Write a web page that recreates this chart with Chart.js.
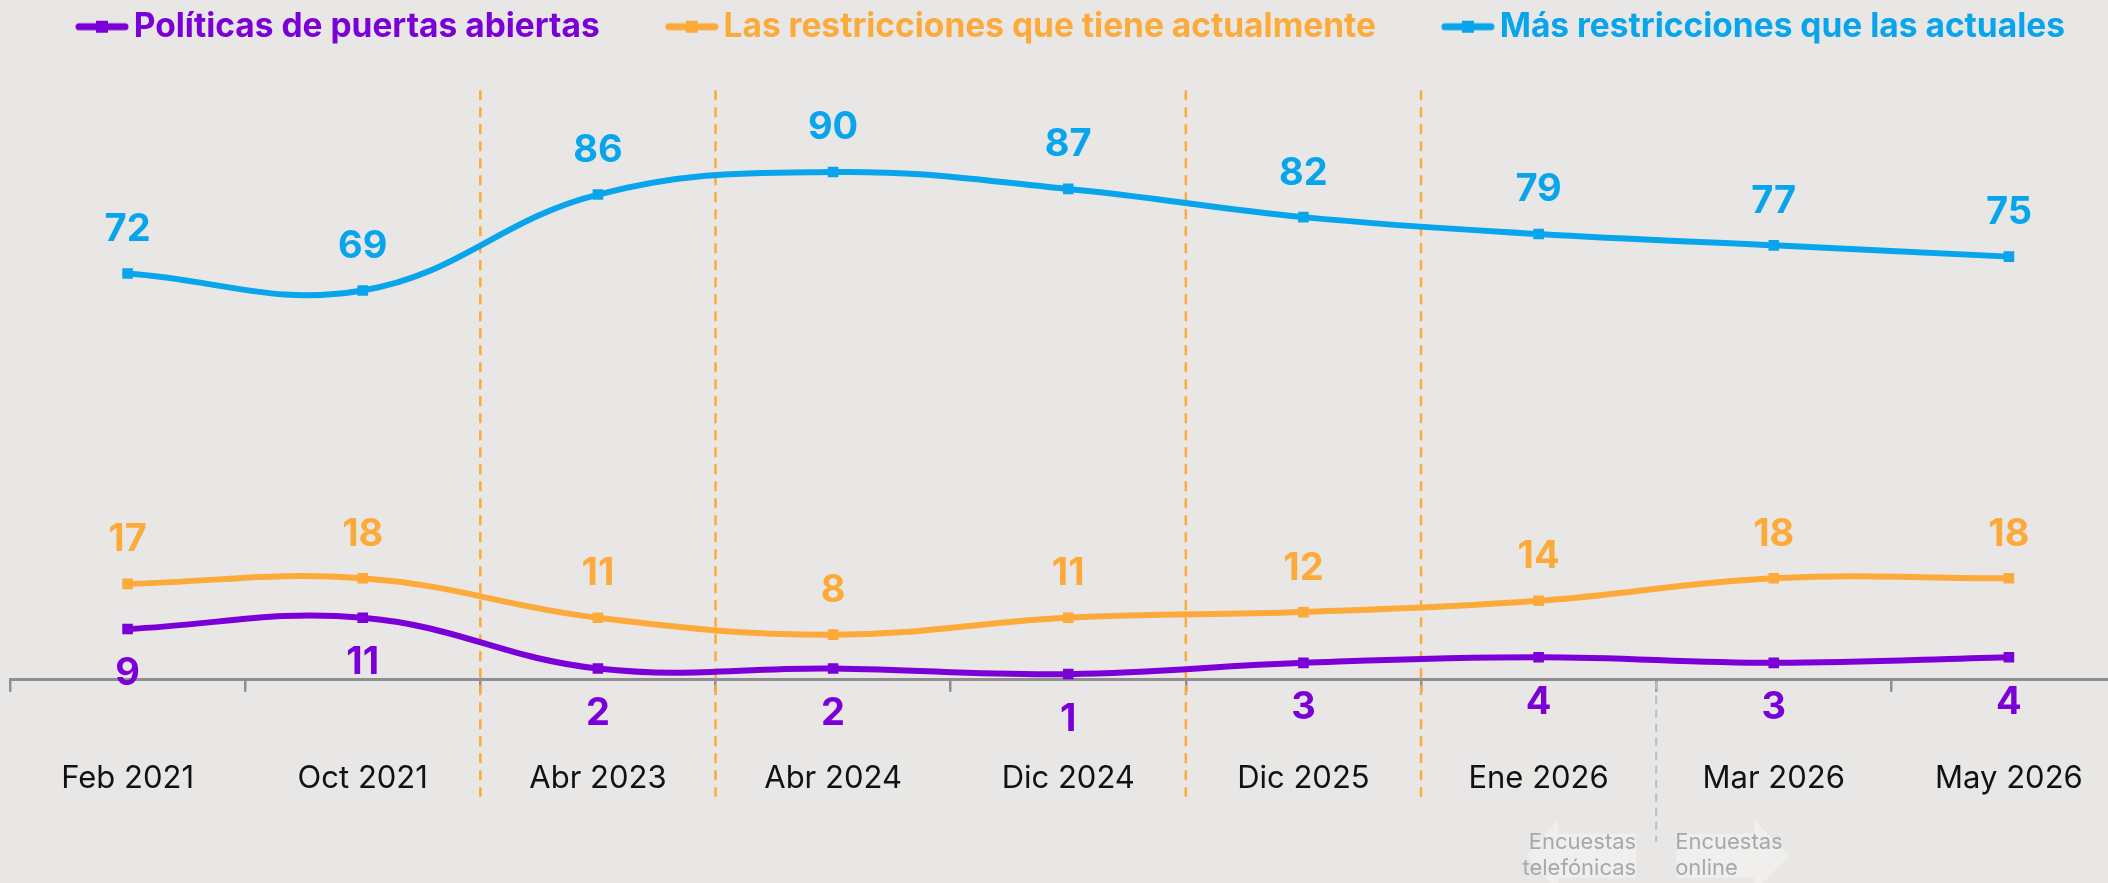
<!DOCTYPE html>
<html>
<head>
<meta charset="utf-8">
<script src="https://cdn.jsdelivr.net/npm/chart.js@4.4.1/dist/chart.umd.min.js"></script>
<style>
html, body { margin: 0; padding: 0; background: #e8e7e5; overflow: hidden; }
#wrap { width: 2134px; height: 883px; }
</style>
</head>
<body>
<div id="wrap"><canvas id="chart" width="2134" height="883"></canvas></div>
<script>
const FONT = 'Inter, "Open Sans", sans-serif';

// Data
const categories = ['Feb 2021', 'Oct 2021', 'Abr 2023', 'Abr 2024', 'Dic 2024', 'Dic 2025', 'Ene 2026', 'Mar 2026', 'May 2026'];
const openDoors = [9, 11, 2, 2, 1, 3, 4, 3, 4];
const currentRestrictions = [17, 18, 11, 8, 11, 12, 14, 18, 18];
const moreRestrictions = [72, 69, 86, 90, 87, 82, 79, 77, 75];
const seriesNames = ['Políticas de puertas abiertas', 'Las restricciones que tiene actualmente', 'Más restricciones que las actuales'];
const seriesColors = ['#7b00d8', '#fcaa3a', '#08a5ec'];

// where the method changes (between categories)
const methodBreaks = [1.5, 2.5, 4.5, 5.5];
const modeBreak = 6.5;
const modeLabels = [['Encuestas', 'telefónicas'], ['Encuestas', 'online']];

// legend marker: a line with a square, drawn into a small canvas
function makeMarker(color) {
    const c = document.createElement('canvas');
    c.width = 121;
    c.height = 14;
    const g = c.getContext('2d');
    g.strokeStyle = color;
    g.lineWidth = 7;
    g.lineCap = 'round';
    g.beginPath();
    g.moveTo(c.width - 54 + 4, 7);
    g.lineTo(c.width - 4, 7);
    g.stroke();
    g.fillStyle = color;
    g.fillRect(c.width - 27 - 6, 1, 12, 12);
    return c;
}
const markers = seriesColors.map(makeMarker);

// value labels above / below each point
const valueLabels = {
    id: 'valueLabels',
    afterDatasetsDraw(chart) {
        const ctx = chart.ctx;
        ctx.save();
        ctx.font = 'bold 38px ' + FONT;
        ctx.textAlign = 'center';
        ctx.textBaseline = 'middle';
        chart.data.datasets.forEach((ds, i) => {
            const meta = chart.getDatasetMeta(i);
            ctx.fillStyle = ds.borderColor;
            meta.data.forEach((pt, j) => {
                ctx.fillText(ds.data[j], pt.x, pt.y + ds.labelOffset);
            });
        });
        ctx.restore();
    }
};

// dashed separators and survey-mode note
const guides = {
    id: 'guides',
    beforeDatasetsDraw(chart) {
        const {ctx, scales: {x, y}} = chart;
        ctx.save();
        ctx.lineWidth = 2.5;
        ctx.strokeStyle = '#fcaa3a';
        ctx.setLineDash([10, 7]);
        const top = y.getPixelForValue(104.5);
        methodBreaks.forEach(v => {
            const px = (x.getPixelForValue(Math.floor(v)) + x.getPixelForValue(Math.ceil(v))) / 2;
            ctx.beginPath();
            ctx.moveTo(px, top);
            ctx.lineTo(px, x.top + 117);
            ctx.stroke();
        });

        const gx = (x.getPixelForValue(Math.floor(modeBreak)) + x.getPixelForValue(Math.ceil(modeBreak))) / 2;
        const cy = x.top + 176;

        // faint arrows
        ctx.setLineDash([]);
        ctx.fillStyle = 'rgba(255,255,255,0.35)';
        ctx.beginPath();
        ctx.moveTo(gx - 130, cy);
        ctx.lineTo(gx - 98, cy - 36);
        ctx.lineTo(gx - 98, cy - 22);
        ctx.lineTo(gx - 20, cy - 22);
        ctx.lineTo(gx - 20, cy + 22);
        ctx.lineTo(gx - 98, cy + 22);
        ctx.lineTo(gx - 98, cy + 36);
        ctx.closePath();
        ctx.fill();
        ctx.beginPath();
        ctx.moveTo(gx + 133, cy);
        ctx.lineTo(gx + 98, cy - 36);
        ctx.lineTo(gx + 98, cy - 22);
        ctx.lineTo(gx + 20, cy - 22);
        ctx.lineTo(gx + 20, cy + 22);
        ctx.lineTo(gx + 98, cy + 22);
        ctx.lineTo(gx + 98, cy + 36);
        ctx.closePath();
        ctx.fill();

        ctx.strokeStyle = '#bdbdbd';
        ctx.lineWidth = 2;
        ctx.setLineDash([8, 6]);
        ctx.beginPath();
        ctx.moveTo(gx, x.top + 2);
        ctx.lineTo(gx, x.top + 162);
        ctx.stroke();

        ctx.fillStyle = '#a8a8a8';
        ctx.font = '22px ' + FONT;
        ctx.textBaseline = 'middle';
        ctx.textAlign = 'right';
        ctx.fillText(modeLabels[0][0], gx - 20, cy - 13);
        ctx.fillText(modeLabels[0][1], gx - 20, cy + 13);
        ctx.textAlign = 'left';
        ctx.fillText(modeLabels[1][0], gx + 19, cy - 13);
        ctx.fillText(modeLabels[1][1], gx + 19, cy + 13);
        ctx.restore();
    }
};

function makeDataset(i, values, offset) {
    return {
        label: seriesNames[i],
        data: values,
        borderColor: seriesColors[i],
        backgroundColor: seriesColors[i],
        borderWidth: 6,
        tension: 0.4,
        pointStyle: 'rect',
        pointRadius: 7.5,
        pointBorderWidth: 0,
        pointBackgroundColor: seriesColors[i],
        labelOffset: offset
    };
}

const chart = new Chart(document.getElementById('chart'), {
    type: 'line',
    data: {
        labels: categories,
        datasets: [
            makeDataset(0, openDoors, 45),
            makeDataset(1, currentRestrictions, -44),
            makeDataset(2, moreRestrictions, -44)
        ]
    },
    options: {
        responsive: false,
        animation: false,
        layout: {
            padding: { left: 10, right: 0, top: 0, bottom: 18 }
        },
        plugins: {
            legend: {
                align: 'start',
                labels: {
                    usePointStyle: true,
                    pointStyleWidth: 97,
                    boxHeight: 14,
                    padding: 10,
                    font: { family: FONT, size: 33.5, weight: 'bold' },
                    generateLabels(chart) {
                        const items = Chart.defaults.plugins.legend.labels.generateLabels(chart);
                        items.forEach((item, i) => {
                            item.pointStyle = markers[i];
                            item.fontColor = seriesColors[i];
                        });
                        return items;
                    }
                }
            },
            tooltip: { enabled: false }
        },
        scales: {
            x: {
                offset: true,
                border: { display: true, color: '#8f8f8f', width: 3 },
                grid: {
                    offset: true,
                    drawOnChartArea: false,
                    drawTicks: true,
                    tickLength: 12,
                    color: '#8f8f8f',
                    lineWidth: 2.5
                },
                ticks: {
                    padding: 68,
                    color: '#111111',
                    font: { family: FONT, size: 31 }
                },
                // the big tick padding should not shrink the plot sideways
                afterFit(scale) {
                    scale.paddingLeft = 0;
                    scale.paddingRight = 0;
                }
            },
            y: {
                display: false,
                min: 0,
                max: 111
            }
        }
    },
    plugins: [guides, valueLabels]
});
</script>
</body>
</html>
